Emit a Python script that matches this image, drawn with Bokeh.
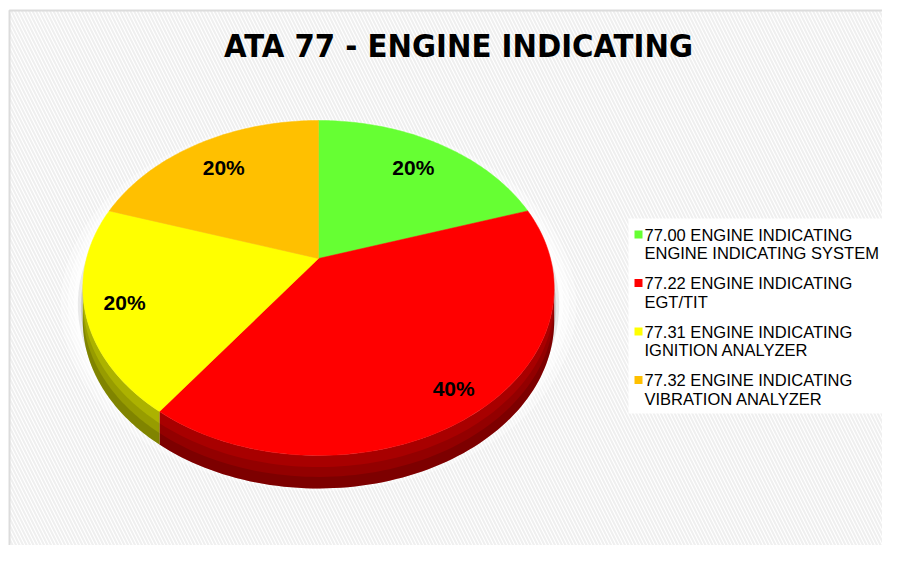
import math
from bokeh.plotting import figure
from bokeh.models import Range1d
from bokeh.core.properties import value
from bokeh.embed import file_html
from bokeh.resources import INLINE

# ---------------- data ----------------
title = "ATA 77 - ENGINE INDICATING"
codes = ["77.00", "77.22", "77.31", "77.32"]
groups = ["ENGINE INDICATING", "ENGINE INDICATING", "ENGINE INDICATING", "ENGINE INDICATING"]
subsystems = ["ENGINE INDICATING SYSTEM", "EGT/TIT", "IGNITION ANALYZER", "VIBRATION ANALYZER"]
shares = [20, 40, 20, 20]
top_colors = ["#66FF33", "#FF0000", "#FFFF00", "#FFC000"]
side_colors = ["#3fb31a", "#a80000", "#acb200", "#c08a00"]

# ---------------- geometry (styles) ----------------
CX, CY = 318.0, 258.0           # pie centre (page px)
A, S, K = 232.0, 162.3, 0.176   # horizontal scale, vertical scale, perspective
DEPTH = 33.0

def proj(theta_deg, r=1.0):
    t = math.radians(theta_deg)
    u, v = r * math.cos(t), r * math.sin(t)
    d = 1 + K * v
    return CX + A * u / d, CY - S * v / d

def arc(a0, a1, n=80):
    pts = [a0 + (a1 - a0) * i / n for i in range(n + 1)]
    return [proj(a) for a in pts]

p = figure(width=882, height=545, output_backend="svg", toolbar_location=None,
           x_range=Range1d(0, 882), y_range=Range1d(545, 0), min_border=0)
p.axis.visible = False
p.grid.visible = False
p.outline_line_color = None
p.background_fill_color = "white"
p.border_fill_color = "white"

# chart area with hatched background
p.quad(left=9, right=900, top=10, bottom=600, fill_color="white",
       hatch_pattern="\\", hatch_color="#efefef", hatch_scale=7, hatch_weight=2,
       line_color="#dcdcdc", line_width=2)

# soft white glow + grey shadow around the pie
ks = math.asin(K)
ring = [proj(j * 3) for j in range(121)]
for grow, dy, col, alpha in [(22, 14, "white", 0.35), (15, 14, "white", 0.45), (9, 14, "white", 0.6),
                             (5, 16, "#b0b0b0", 0.25), (2, 18, "#909090", 0.3)]:
    xs = [CX + (x - CX) * (1 + grow / 236) for x, y in ring]
    ys = [CY + dy + (y - CY) * (1 + grow / 200) for x, y in ring]
    p.patch(xs, ys, fill_color=col, fill_alpha=alpha, line_color=None)

# slice angles (clockwise from 12 o'clock)
total = float(sum(shares))
starts, ends = [], []
a = 90.0
for s in shares:
    starts.append(a)
    a -= 360.0 * s / total
    ends.append(a)

# visible front rim range
vis_hi = -math.degrees(ks)          # about -10 deg
vis_lo = -180 + math.degrees(ks)    # about -170 deg

# side bands
for i in range(len(shares)):
    a0, a1 = starts[i], ends[i]
    for shift in (0, -360, 360):
        hi = min(a0 + shift, vis_hi)
        lo = max(a1 + shift, vis_lo)
        if hi > lo:
            rim = arc(hi, lo)
            xs = [x for x, y in rim] + [x for x, y in reversed(rim)]
            ys = [y for x, y in rim] + [y + DEPTH for x, y in reversed(rim)]
            p.patch(xs, ys, fill_color=side_colors[i], line_color=None)
            for f0, alpha in [(0.35, 0.12), (0.65, 0.15)]:
                ys2 = [y + DEPTH * f0 for x, y in rim] + [y + DEPTH for x, y in reversed(rim)]
                p.patch(xs, ys2, fill_color="black", fill_alpha=alpha, line_color=None)

# top faces
for i in range(len(shares)):
    pts = arc(starts[i], ends[i])
    xs = [CX] + [x for x, y in pts]
    ys = [CY] + [y for x, y in pts]
    p.patch(xs, ys, fill_color=top_colors[i], line_color=top_colors[i], line_width=0.5)

# percentage labels
lx, ly, lt = [], [], []
for i, s in enumerate(shares):
    mid = (starts[i] + ends[i]) / 2
    r = 0.82 - 0.06 * math.sin(math.radians(mid))
    x, y = proj(mid, r)
    lx.append(x); ly.append(y); lt.append(f"{round(100 * s / total)}%")
p.text(lx, ly, text=lt, text_font=value("Liberation Sans"), text_font_style="bold",
       text_font_size="21px", text_align="center", text_baseline="middle", text_color="black")

# title
p.text([458], [45], text=[title], text_font=value("DejaVu Sans Condensed"), text_font_style="bold",
       text_font_size="32.5px", text_align="center", text_baseline="middle", text_color="black")

# legend
p.quad(left=628, right=900, top=218, bottom=413, fill_color="white", line_color=None)
mx, my, t1y, t2y, t1, t2 = [], [], [], [], [], []
for i in range(len(codes)):
    y0 = 234 + 48.5 * i
    mx.append(638); my.append(y0)
    t1y.append(y0); t2y.append(y0 + 18.5)
    t1.append(f"{codes[i]} {groups[i]}"); t2.append(subsystems[i])
p.rect(mx, my, width=8, height=8, fill_color=top_colors, line_color=None)
p.text([644] * len(codes), t1y, text=t1, text_font=value("Liberation Sans"), text_font_size="16.5px",
       text_baseline="middle", text_color="black")
p.text([644] * len(codes), t2y, text=t2, text_font=value("Liberation Sans"), text_font_size="16.5px",
       text_baseline="middle", text_color="black")

open("out.html", "w").write(file_html(p, INLINE))
